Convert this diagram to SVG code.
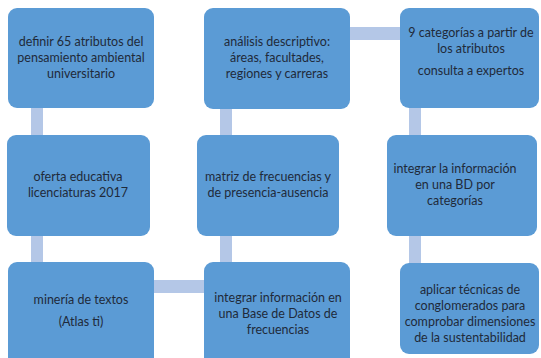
<svg xmlns="http://www.w3.org/2000/svg" width="541" height="358" viewBox="0 0 541 358">
<style>
.box{fill:#5b9bd5;}
.con{fill:#b4c7e7;}
text{font-family:Lato,"Liberation Sans",sans-serif;font-size:12.5px;fill:#1f2a3a;text-anchor:middle;}
</style>
<rect width="541" height="358" fill="#ffffff"/>
<g id="connectors">
<rect class="con" x="31" y="106" width="12" height="31"/>
<rect class="con" x="31" y="234" width="12" height="30"/>
<rect class="con" x="220" y="106" width="12" height="31"/>
<rect class="con" x="220" y="234" width="12" height="30"/>
<rect class="con" x="409" y="106" width="12" height="31"/>
<rect class="con" x="409" y="234" width="12" height="30"/>
<rect class="con" x="348" y="27" width="54" height="13"/>
<rect class="con" x="152" y="280" width="54" height="13"/>
</g>
<g id="n1"><rect class="box" x="8" y="8" width="146" height="100" rx="9"/>
<text x="81" y="46">definir 65 atributos del</text><text x="81" y="62">pensamiento ambiental</text><text x="81" y="78">universitario</text></g>
<g id="n2"><rect class="box" x="204" y="8" width="146" height="101" rx="9"/>
<text x="277" y="46">análisis descriptivo:</text><text x="277" y="62">áreas, facultades,</text><text x="277" y="78">regiones y carreras</text></g>
<g id="n3"><rect class="box" x="400" y="8" width="139" height="100" rx="9"/>
<text x="471" y="37">9 categorías a partir de</text><text x="471" y="53">los atributos</text><text x="471" y="75">consulta a expertos</text></g>
<g id="n4"><rect class="box" x="7" y="135" width="143" height="101" rx="9"/>
<text x="78" y="181">oferta educativa</text><text x="78" y="197">licenciaturas 2017</text></g>
<g id="n5"><rect class="box" x="197" y="135" width="142" height="101" rx="9"/>
<text x="268" y="181">matriz de frecuencias y</text><text x="268" y="197">de presencia-ausencia</text></g>
<g id="n6"><rect class="box" x="387" y="135" width="150" height="101" rx="9"/>
<text x="455" y="173">integrar la información</text><text x="455" y="189">en una BD por</text><text x="455" y="205">categorías</text></g>
<g id="n7"><rect class="box" x="8" y="262" width="146" height="106" rx="9"/>
<text x="81" y="304">minería de textos</text><text x="81" y="326">(Atlas ti)</text></g>
<g id="n8"><rect class="box" x="204" y="262" width="146" height="106" rx="9"/>
<text x="278" y="302">integrar información en</text><text x="278" y="318">una Base de Datos de</text><text x="278" y="334">frecuencias</text></g>
<g id="n9"><rect class="box" x="400" y="263" width="139" height="91" rx="9"/>
<text x="470" y="294">aplicar técnicas de</text><text x="470" y="310">conglomerados para</text><text x="470" y="326">comprobar dimensiones</text><text x="470" y="342">de la sustentabilidad</text></g>
</svg>
